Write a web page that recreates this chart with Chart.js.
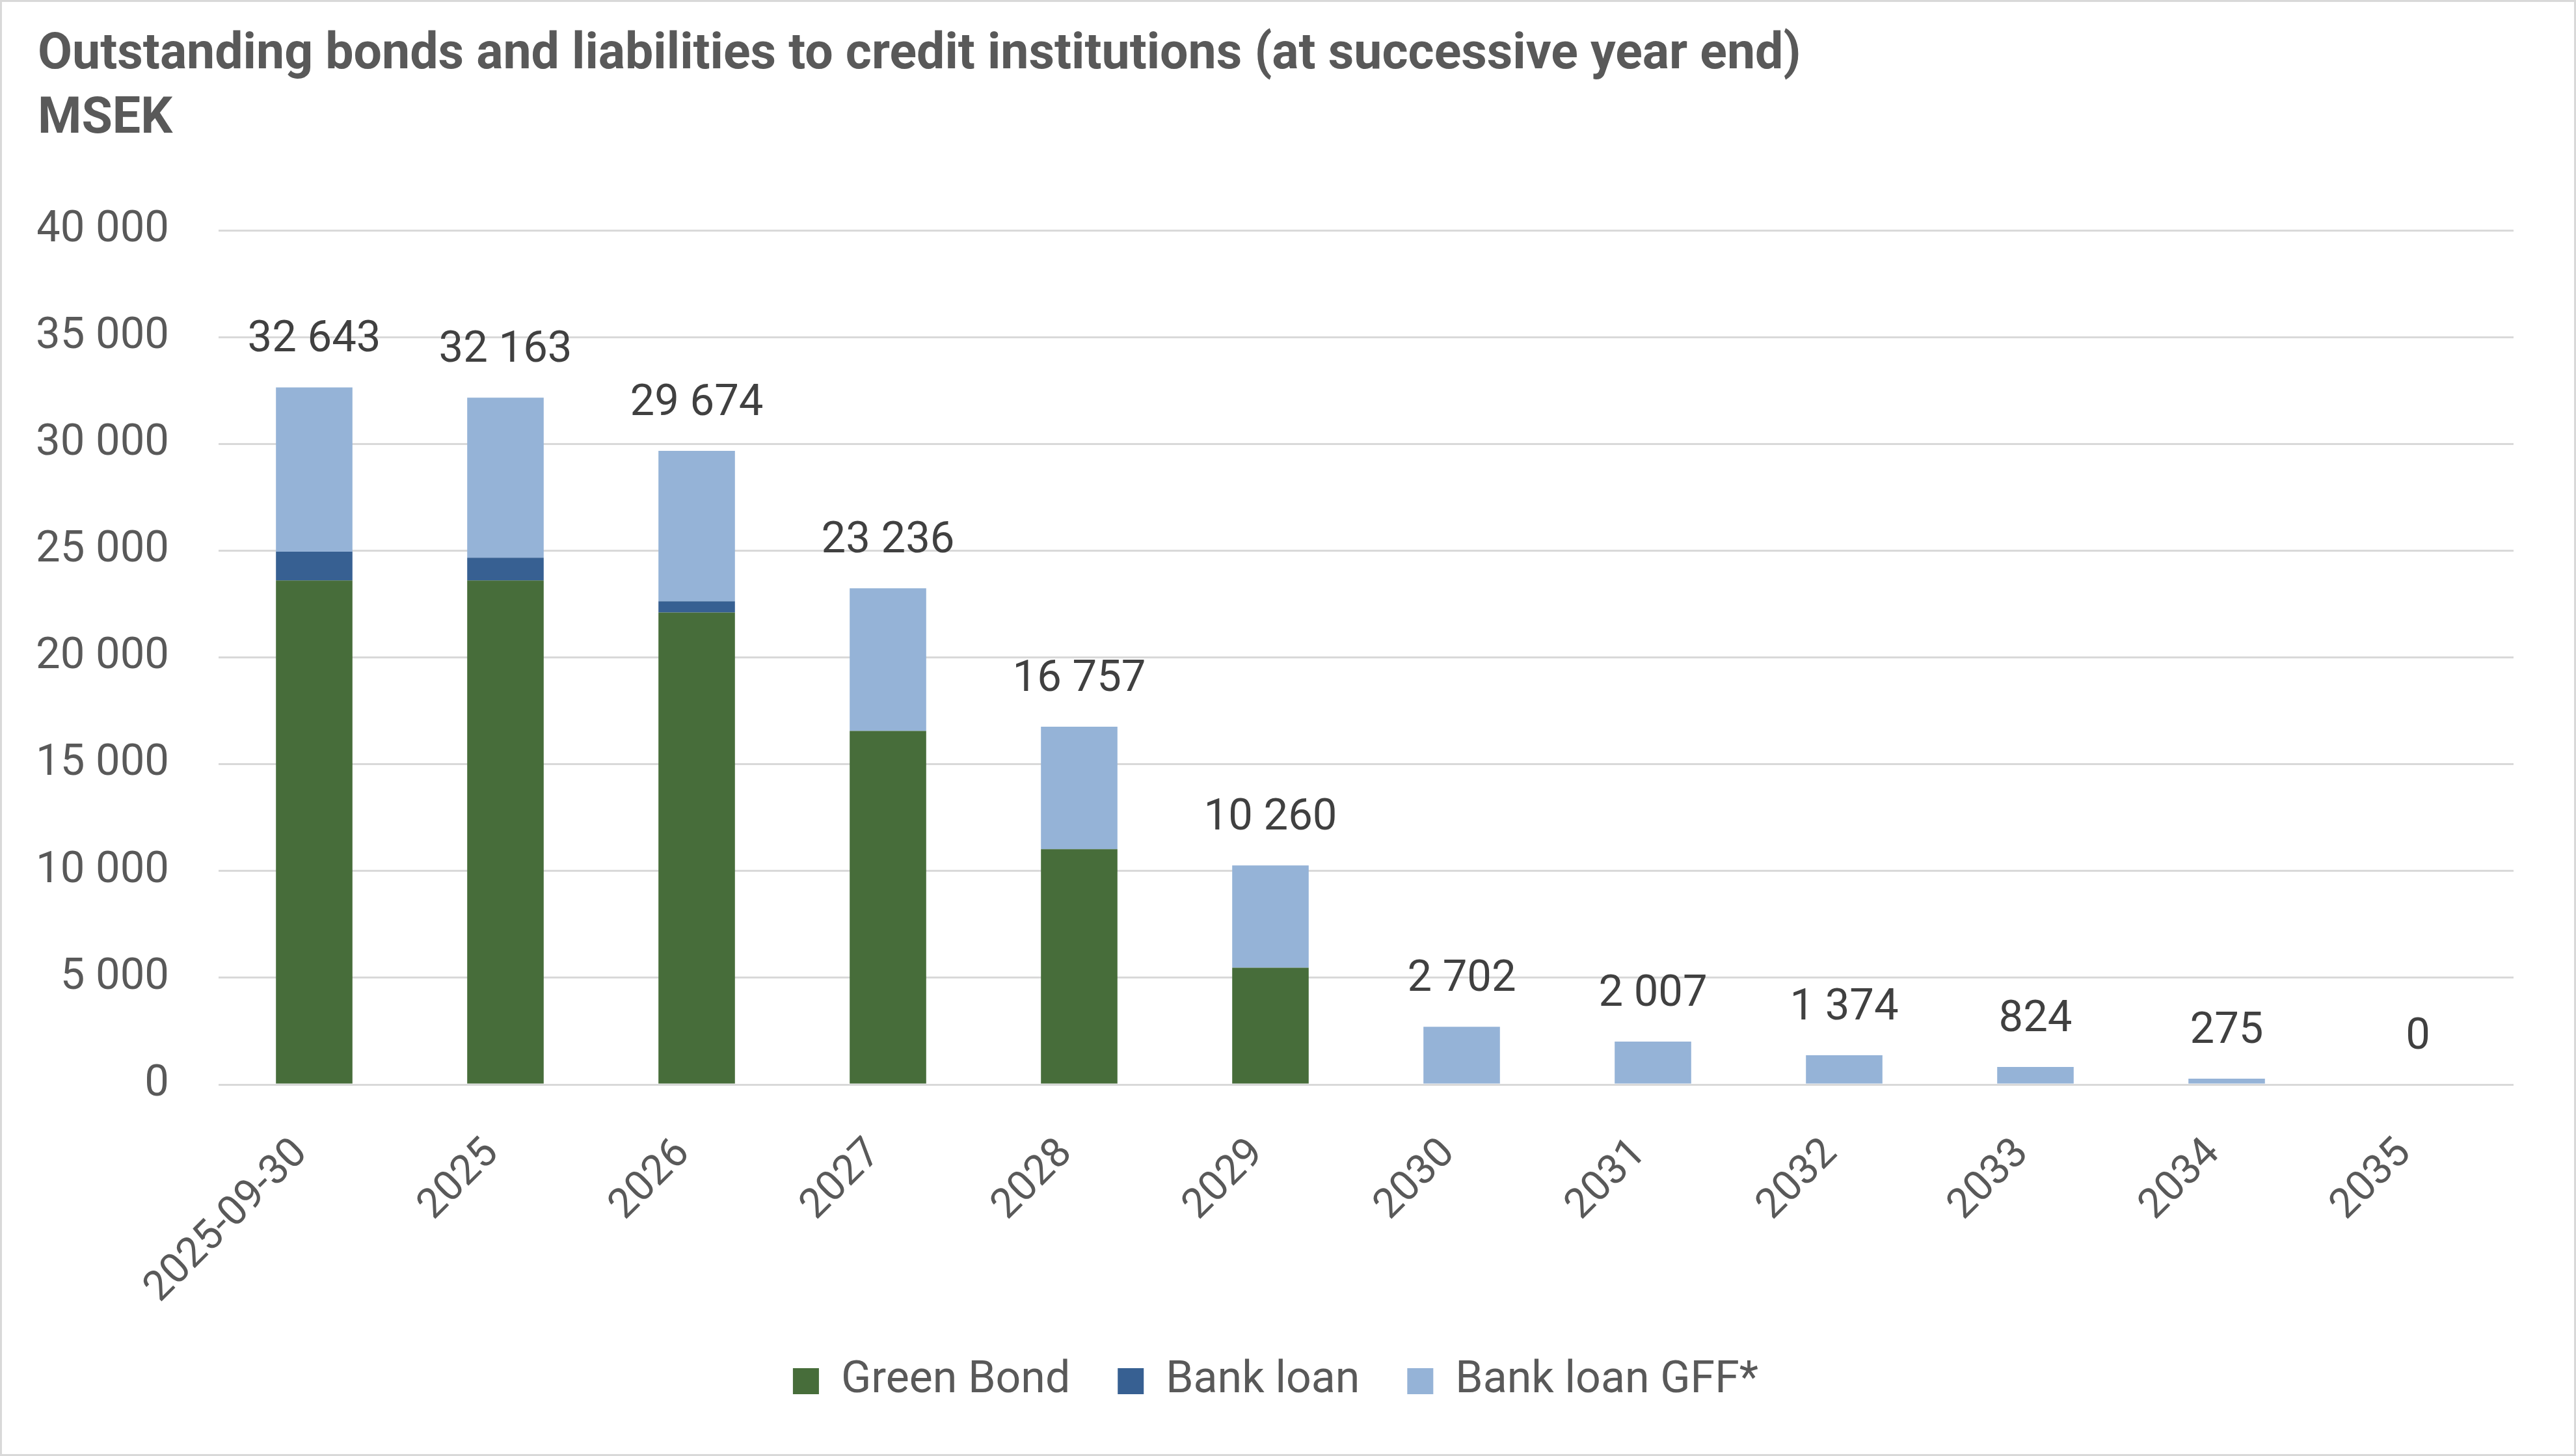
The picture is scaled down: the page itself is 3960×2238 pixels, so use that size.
<!DOCTYPE html>
<html>
<head>
<meta charset="utf-8">
<script src="https://cdn.jsdelivr.net/npm/chart.js@4"></script>
<style>
  body { margin: 0; background: #fff; }
  canvas { display: block; }
</style>
</head>
<body>
<canvas id="chart" width="3960" height="2238"></canvas>
<script>
// data (MSEK)
const categories = ["2025-09-30", "2025", "2026", "2027", "2028", "2029", "2030", "2031", "2032", "2033", "2034", "2035"];
const greenBond = [23600, 23600, 22100, 16560, 11020, 5470, 0, 0, 0, 0, 0, 0];
const bankLoan = [1350, 1070, 530, 0, 0, 0, 0, 0, 0, 0, 0, 0];
const bankLoanGFF = [7693, 7493, 7044, 6676, 5737, 4790, 2702, 2007, 1374, 824, 275, 0];
const yTicks = [0, 5000, 10000, 15000, 20000, 25000, 30000, 35000, 40000];

const FONT = "Roboto";

function fmt(n) {
    return String(Math.round(n)).replace(/\B(?=(\d{3})+(?!\d))/g, " ");
}

// white background + thin frame like the Excel chart area
const frame = {
    id: "frame",
    beforeDraw(chart) {
        const ctx = chart.ctx;
        ctx.save();
        ctx.fillStyle = "#ffffff";
        ctx.fillRect(0, 0, chart.width, chart.height);
        ctx.strokeStyle = "#D9D9D9";
        ctx.lineWidth = 3;
        ctx.strokeRect(1.5, 1.5, chart.width - 3, chart.height - 3);
        ctx.restore();
    }
};

// totals above each stacked bar
const totals = {
    id: "totals",
    afterDatasetsDraw(chart) {
        const ctx = chart.ctx;
        const y = chart.scales.y;
        const meta = chart.getDatasetMeta(0);
        ctx.save();
        ctx.font = "67px " + FONT;
        ctx.fillStyle = "#404040";
        ctx.textAlign = "center";
        ctx.textBaseline = "middle";
        categories.forEach((c, i) => {
            const sum = chart.data.datasets.reduce((s, d) => s + d.data[i], 0);
            ctx.fillText(fmt(sum), meta.data[i].x, y.getPixelForValue(sum) - 72);
        });
        ctx.restore();
    }
};

new Chart(document.getElementById("chart"), {
    type: "bar",
    data: {
        labels: categories,
        datasets: [
            { label: "Green Bond", data: greenBond, backgroundColor: "#476D3A" },
            { label: "Bank loan", data: bankLoan, backgroundColor: "#376092" },
            { label: "Bank loan GFF*", data: bankLoanGFF, backgroundColor: "#95B3D7" }
        ]
    },
    options: {
        responsive: false,
        devicePixelRatio: 1,
        animation: false,
        categoryPercentage: 1,
        barPercentage: 0.4,
        borderWidth: 0,
        layout: { padding: { left: 58, right: 96, top: 0, bottom: 71 } },
        plugins: {
            title: {
                display: true,
                align: "start",
                text: ["Outstanding bonds and liabilities to credit institutions (at successive year end)", "MSEK"],
                color: "#595959",
                font: { family: FONT, size: 77, weight: "bold", lineHeight: 1.286 },
                padding: { top: 36, bottom: 120 }
            },
            legend: {
                position: "bottom",
                labels: {
                    color: "#595959",
                    font: { family: FONT, size: 68 },
                    boxWidth: 40,
                    boxHeight: 40,
                    padding: 73
                }
            },
            tooltip: { enabled: false }
        },
        scales: {
            x: {
                stacked: true,
                grid: { display: false },
                border: { display: false },
                ticks: {
                    color: "#595959",
                    font: { family: FONT, size: 64 },
                    minRotation: 45,
                    maxRotation: 45,
                    padding: 61,
                    labelOffset: -20
                },
                afterFit(scale) { scale.height = 349; }
            },
            y: {
                stacked: true,
                min: 0,
                max: 40000,
                afterBuildTicks(scale) { scale.ticks = yTicks.map(v => ({ value: v })); },
                grid: { color: "#D9D9D9", lineWidth: 3, drawTicks: false },
                border: { display: false },
                ticks: {
                    color: "#595959",
                    font: { family: FONT, size: 67 },
                    padding: 76,
                    callback: v => fmt(v)
                },
                afterFit(scale) { scale.width = 278; }
            }
        }
    },
    plugins: [frame, totals]
});
</script>
</body>
</html>
